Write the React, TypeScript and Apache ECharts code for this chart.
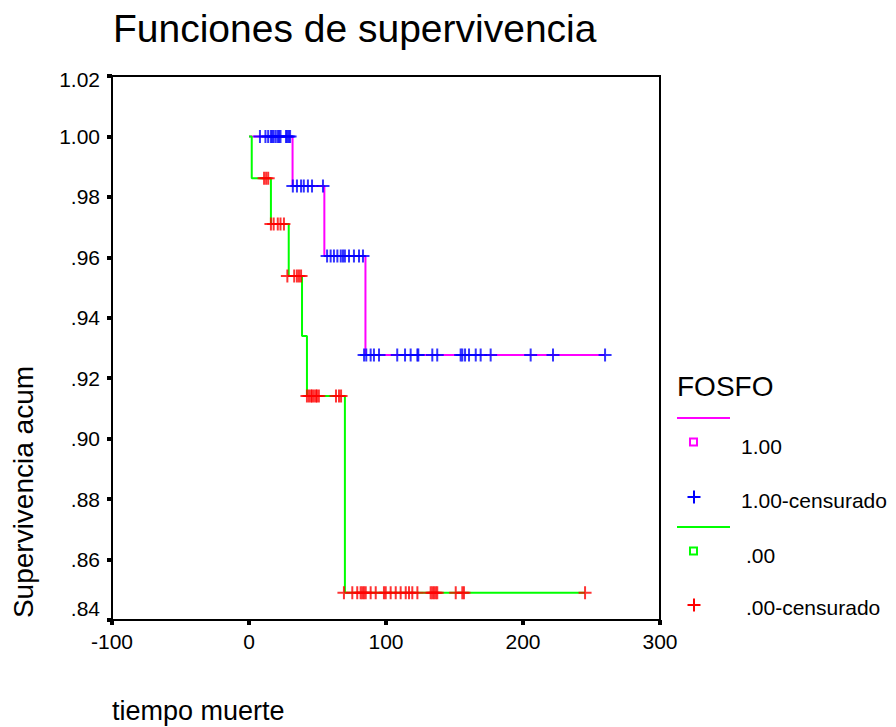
import React, { useEffect, useRef } from "react";
import * as echarts from "echarts";

// ---- Data ----
const xTicks = [-100, 0, 100, 200, 300];
const yTicks = [0.84, 0.86, 0.88, 0.9, 0.92, 0.94, 0.96, 0.98, 1.0, 1.02];

// FOSFO = 1.00 : event times and survival after each event
const g1EventTimes = [0, 31.8, 55, 85, 260];
const g1Survival = [1.0, 0.9836, 0.9604, 0.9277, 0.9277];
// censored times per survival level
const g1CensLevels = [1.0, 0.9836, 0.9604, 0.9277];
const g1CensTimes = [
  [8, 12, 14, 16, 17, 18, 19.5, 21, 22, 23, 27, 28, 29, 30],
  [32, 35, 38, 40, 43, 46, 54],
  [57, 59.6, 62, 64.5, 67, 68.6, 70, 73, 76.6, 80.3, 83.2],
  [84, 85.6, 88.8, 91.2, 94.9, 108.2, 113.9, 118, 122.9, 123.6, 133.8, 137.4, 154.5, 155.7, 157.7, 160.6, 165.5, 169.1, 176.4, 205.6, 221.9, 259.9],
];

// FOSFO = .00
const g0EventTimes = [0, 2, 16, 29, 38.7, 42.3, 70, 245.3];
const g0Survival = [1.0, 0.9862, 0.971, 0.9538, 0.934, 0.9141, 0.849, 0.849];
const g0CensLevels = [0.9862, 0.971, 0.9538, 0.9141, 0.849];
const g0CensTimes = [
  [11, 12.5, 14],
  [16, 18, 21, 23, 25.5],
  [28, 33, 35, 36.5, 38],
  [42.3, 43.8, 45.3, 46, 47.4, 48.9, 49.6, 51, 63.5, 65.7, 67.2],
  [69.3, 75.4, 79, 81.5, 82.7, 83.9, 85.2, 88.8, 92.5, 98.5, 99.8, 103.4, 107.1, 110.7, 114.4, 116.8, 119.2, 122.9, 132.6, 133.8, 135, 136.3, 137.4, 150.9, 155.7, 156.9, 245.3],
];

const legendTitle = "FOSFO";
const legendLabels = ["1.00", "1.00-censurado", ".00", ".00-censurado"];

const FONT = "'Liberation Sans', Arial, Helvetica, sans-serif";
const MAGENTA = "#ff00ff";
const BLUE = "#0000ff";
const GREEN = "#00ff00";
const RED = "#ff0000";
const PLUS = "path://M5.5,0H7.5V5.5H13V7.5H7.5V13H5.5V7.5H0V5.5H5.5Z";

function stepData(times: number[], surv: number[]) {
  return times.map((t, i) => [t, surv[i]]);
}
function censData(levels: number[], times: number[][]) {
  const out: number[][] = [];
  levels.forEach((lv, i) => times[i].forEach((t) => out.push([t, lv])));
  return out;
}
function fmtY(v: number) {
  const s = v.toFixed(2);
  return s.startsWith("0") ? s.slice(1) : s;
}

export default function App() {
  const ref = useRef<HTMLDivElement>(null);
  useEffect(() => {
    if (!ref.current) return;
    const chart = echarts.init(ref.current, undefined, { renderer: "svg" });

    const legendX = 677;
    const plusLines = (cx: number, cy: number, color: string) => [
      { type: "line", shape: { x1: cx - 6.5, y1: cy, x2: cx + 6.5, y2: cy }, style: { stroke: color, lineWidth: 2 } },
      { type: "line", shape: { x1: cx, y1: cy - 6.5, x2: cx, y2: cy + 6.5 }, style: { stroke: color, lineWidth: 2 } },
    ];

    const option: any = {
      animation: false,
      backgroundColor: "#ffffff",
      grid: {
        left: 112,
        top: 76,
        width: 548,
        height: 544,
        show: true,
        borderColor: "#000",
        borderWidth: 2,
        backgroundColor: "transparent",
        containLabel: false,
      },
      xAxis: {
        type: "value",
        position: "bottom",
        min: xTicks[0],
        max: xTicks[xTicks.length - 1],
        interval: 100,
        splitLine: { show: false },
        axisLine: { show: false, onZero: false },
        axisTick: { show: true, inside: false, length: 5, lineStyle: { color: "#000", width: 4 } },
        axisLabel: {
          color: "#000",
          fontFamily: FONT,
          fontSize: 21,
          margin: 11,
          formatter: (v: number) => String(v),
        },
      },
      yAxis: {
        type: "value",
        position: "left",
        min: yTicks[0],
        max: yTicks[yTicks.length - 1],
        interval: 0.02,
        splitLine: { show: false },
        axisLine: { show: false, onZero: false },
        axisTick: { show: true, inside: false, length: 5, lineStyle: { color: "#000", width: 4 } },
        axisLabel: {
          color: "#000",
          fontFamily: FONT,
          fontSize: 21,
          margin: 12,
          formatter: (v: number) => {
            const s = fmtY(v);
            if (Math.abs(v - yTicks[0]) < 1e-6) return "{bot|" + s + "}";
            if (Math.abs(v - yTicks[yTicks.length - 1]) < 1e-6) return "{top|" + s + "}";
            return s;
          },
          rich: {
            bot: { fontFamily: FONT, fontSize: 21, color: "#000", padding: [0, 0, 24, 0] },
            top: { fontFamily: FONT, fontSize: 21, color: "#000", padding: [6, 0, 0, 0] },
          },
        },
      },
      series: [
        {
          type: "line",
          step: "end",
          data: stepData(g1EventTimes, g1Survival),
          showSymbol: false,
          lineStyle: { color: MAGENTA, width: 2 },
          z: 2,
        },
        {
          type: "line",
          step: "end",
          data: stepData(g0EventTimes, g0Survival),
          showSymbol: false,
          lineStyle: { color: GREEN, width: 2 },
          z: 2,
        },
        {
          type: "scatter",
          data: censData(g1CensLevels, g1CensTimes),
          symbol: PLUS,
          symbolSize: 13,
          itemStyle: { color: BLUE },
          z: 3,
        },
        {
          type: "scatter",
          data: censData(g0CensLevels, g0CensTimes),
          symbol: PLUS,
          symbolSize: 13,
          itemStyle: { color: RED },
          z: 3,
        },
      ],
      graphic: [
        {
          type: "text",
          x: 113,
          y: 28,
          style: { text: "Funciones de supervivencia", fontFamily: FONT, fontSize: 39, fill: "#000", verticalAlign: "middle", align: "left" },
        },
        {
          type: "text",
          x: 112,
          y: 711,
          style: { text: "tiempo muerte", fontFamily: FONT, fontSize: 27, fill: "#000", verticalAlign: "middle", align: "left" },
        },
        {
          type: "text",
          x: 23,
          y: 492,
          rotation: Math.PI / 2,
          style: { text: "Supervivencia acum", fontFamily: FONT, fontSize: 28, fill: "#000", verticalAlign: "middle", align: "center" },
        },
        // legend
        {
          type: "text",
          x: legendX,
          y: 386,
          style: { text: legendTitle, fontFamily: FONT, fontSize: 28, fill: "#000", verticalAlign: "middle", align: "left" },
        },
        { type: "line", shape: { x1: legendX, y1: 418, x2: 730, y2: 418 }, style: { stroke: MAGENTA, lineWidth: 2 } },
        { type: "rect", shape: { x: 690, y: 438.5, width: 7, height: 7 }, style: { stroke: MAGENTA, fill: "transparent", lineWidth: 2 } },
        {
          type: "text",
          x: 741,
          y: 446,
          style: { text: legendLabels[0], fontFamily: FONT, fontSize: 21, fill: "#000", verticalAlign: "middle", align: "left" },
        },
        ...plusLines(694, 497, BLUE),
        {
          type: "text",
          x: 741,
          y: 500,
          style: { text: legendLabels[1], fontFamily: FONT, fontSize: 21, fill: "#000", verticalAlign: "middle", align: "left" },
        },
        { type: "line", shape: { x1: legendX, y1: 527, x2: 730, y2: 527 }, style: { stroke: GREEN, lineWidth: 2 } },
        { type: "rect", shape: { x: 690, y: 547.5, width: 7, height: 7 }, style: { stroke: GREEN, fill: "transparent", lineWidth: 2 } },
        {
          type: "text",
          x: 746,
          y: 555,
          style: { text: legendLabels[2], fontFamily: FONT, fontSize: 21, fill: "#000", verticalAlign: "middle", align: "left" },
        },
        ...plusLines(694, 605, RED),
        {
          type: "text",
          x: 746,
          y: 607,
          style: { text: legendLabels[3], fontFamily: FONT, fontSize: 21, fill: "#000", verticalAlign: "middle", align: "left" },
        },
      ],
    };
    chart.setOption(option);
    return () => chart.dispose();
  }, []);

  return (
    <div
      ref={ref}
      style={{ position: "fixed", left: 0, top: 0, width: 896, height: 727, background: "#fff" }}
    />
  );
}
